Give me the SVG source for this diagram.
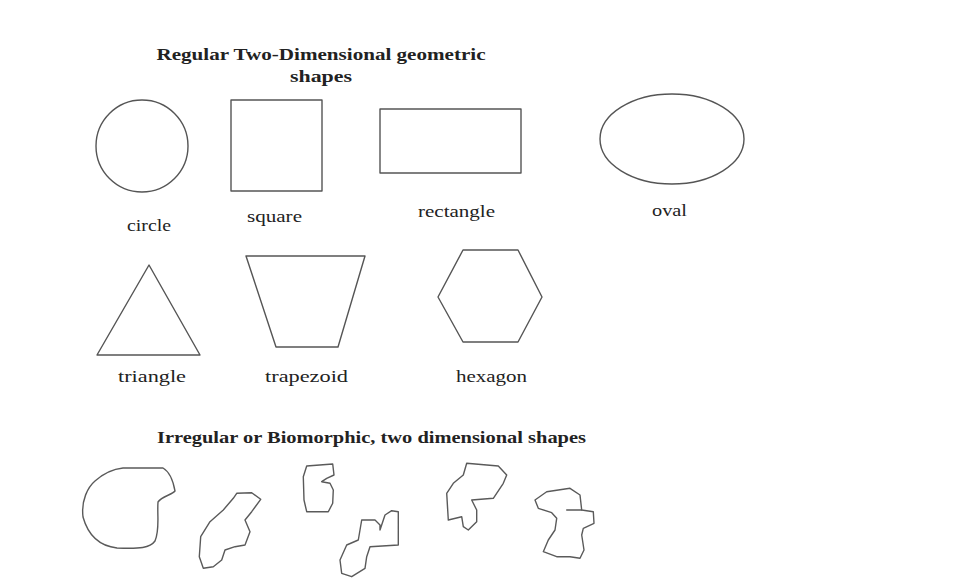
<svg xmlns="http://www.w3.org/2000/svg" width="976" height="584" viewBox="0 0 976 584">
<style>
.s{fill:none;stroke:#555;stroke-width:1.4;stroke-linejoin:round}
.b{fill:none;stroke:#5a5a5a;stroke-width:1.4;stroke-linejoin:round;stroke-linecap:round}
.t{font-family:"Liberation Serif",serif;font-weight:bold;font-size:16px;fill:#222;text-anchor:middle}
.l{font-family:"Liberation Serif",serif;font-size:16px;fill:#222;text-anchor:middle}
</style>
<rect width="976" height="584" fill="#fff"/>
<text class="t" x="321" y="60" textLength="329" lengthAdjust="spacingAndGlyphs">Regular Two-Dimensional geometric</text>
<text class="t" x="321" y="82" textLength="62" lengthAdjust="spacingAndGlyphs">shapes</text>
<g id="circle"><circle class="s" cx="142" cy="146" r="46"/><text class="l" x="149" y="231" textLength="44" lengthAdjust="spacingAndGlyphs">circle</text></g>
<g id="square"><rect class="s" x="231" y="100" width="91" height="91"/><text class="l" x="274.5" y="222" textLength="55" lengthAdjust="spacingAndGlyphs">square</text></g>
<g id="rectangle"><rect class="s" x="380" y="109" width="141" height="64"/><text class="l" x="456.5" y="217" textLength="77" lengthAdjust="spacingAndGlyphs">rectangle</text></g>
<g id="oval"><ellipse class="s" cx="672" cy="139" rx="72" ry="45"/><text class="l" x="669.5" y="216" textLength="35" lengthAdjust="spacingAndGlyphs">oval</text></g>
<g id="triangle"><polygon class="s" points="149,265 97,355 200,355"/><text class="l" x="152" y="382" textLength="68" lengthAdjust="spacingAndGlyphs">triangle</text></g>
<g id="trapezoid"><polygon class="s" points="246,256 365,256 338,347 276,347"/><text class="l" x="306.5" y="382" textLength="83" lengthAdjust="spacingAndGlyphs">trapezoid</text></g>
<g id="hexagon"><polygon class="s" points="438,297 463,250 518,250 542,297 518,342 463,342"/><text class="l" x="491.5" y="382" textLength="71" lengthAdjust="spacingAndGlyphs">hexagon</text></g>
<text class="t" x="371.5" y="443" textLength="429" lengthAdjust="spacingAndGlyphs">Irregular or Biomorphic, two dimensional shapes</text>
<g id="blob1"><path class="b" d="M123,468 L163,468 C170,472 173,480 175,491 C172,495 162,496 158,502 C157,515 160,530 155,541 C150,548 140,549 117,548 C100,546 88,535 83,517 C81,500 88,487 95,481 C104,473 113,469 123,468 Z"/></g>
<g id="blob2"><polygon class="b" points="236.7,493.3 251.7,492.7 260.7,499.3 251.7,511.7 245,520 250,531.7 245,545 235,546.7 225,550 221.7,560 213.3,566.7 203.3,568.3 199.3,556.7 200.7,536.7 210,521.7 223.3,510 233.3,498.3"/></g>
<g id="blob3"><polygon class="b" points="306.7,466 332.7,464 334,475 326.7,478.3 321.7,481.7 330,483.3 333.3,490 332.7,503.3 328.3,511.7 306.7,511.7 304,500 303.3,476.7"/></g>
<g id="blob4"><polygon class="b" points="361.7,520 375,520 380,525 380,530 385,515 391.7,510.7 398.3,511.7 398.3,545 370,546.7 366.7,556.7 365,568.3 351.7,576.7 341.7,573.3 340,560 346.7,545 358.3,540 360,530"/></g>
<g id="blob5"><polygon class="b" points="466.7,463.3 498.3,466 506.7,475 503.3,483.3 493.3,498.3 471.7,500 476.7,510 476.7,521.7 468.3,530 463.3,526.7 461.7,516.7 448.3,520 446.7,493.3 453.3,483.3 463.3,475"/></g>
<g id="blob6"><polygon class="b" points="535,500 546.7,491.7 570,488.3 580,495 581.7,510 593.3,511.7 594,523.3 583.3,528.3 581.7,535 584,550 580,558.3 570,556.7 556.7,556.7 543.3,551.7 548.3,540 555,530 556.7,518.3 551.7,512.7 538.3,508.3"/><path class="b" d="M566.7,510 L581.7,510"/></g>
</svg>
